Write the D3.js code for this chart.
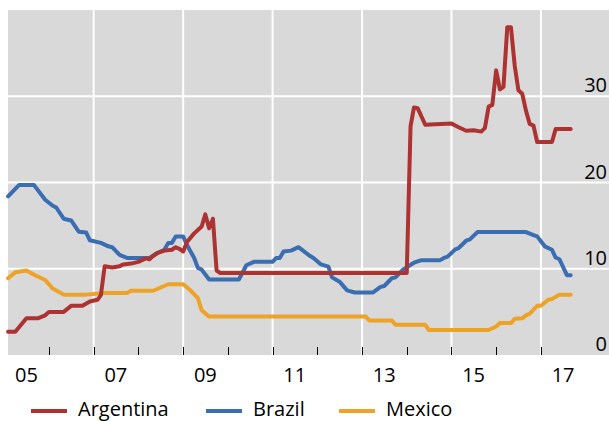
<!DOCTYPE html>
<html><head><meta charset="utf-8">
<script src="https://cdn.jsdelivr.net/npm/d3@7"></script>
<style>body{margin:0;background:#fff}svg{display:block}text{font-family:"Open Sans",sans-serif;fill:#000}</style>
</head><body><svg id="c" width="609" height="421"></svg>
<script>
const argDates = ["2005-02","2005-04","2005-07","2005-10","2005-12","2006-01","2006-05","2006-07","2006-10","2006-12","2007-02","2007-03","2007-04","2007-06","2007-08","2007-09","2007-11","2008-01","2008-03","2008-04","2008-05","2008-06","2008-08","2008-10","2008-11","2008-12","2009-01","2009-02","2009-04","2009-05","2009-06","2009-07","2009-08","2009-09","2009-10","2009-11","2014-01","2014-02","2014-03","2014-04","2014-06","2015-01","2015-02","2015-03","2015-05","2015-07","2015-09","2015-10","2015-11","2015-12","2016-01","2016-02","2016-03","2016-04","2016-05","2016-06","2016-07","2016-08","2016-09","2016-10","2016-11","2016-12","2017-04","2017-05","2017-09"];
const argValues = [2.7,2.7,4.25,4.25,4.6,5.0,5.0,5.7,5.7,6.2,6.4,6.95,10.3,10.15,10.3,10.5,10.6,10.8,11.2,11.1,11.5,11.8,12.1,12.2,12.5,12.3,12.0,13.1,14.1,14.5,14.9,16.3,14.7,15.8,9.8,9.5,9.5,26.5,28.7,28.6,26.7,26.85,26.6,26.4,26.0,26.05,25.9,26.3,28.8,29.0,33.0,30.8,31.1,38.0,38.0,33.5,30.7,30.3,28.3,26.8,26.6,24.7,24.7,26.2,26.2];

const braDates = ["2005-02","2005-05","2005-09","2005-12","2006-02","2006-03","2006-05","2006-07","2006-09","2006-11","2006-12","2007-03","2007-05","2007-06","2007-08","2007-10","2008-04","2008-06","2008-08","2008-09","2008-10","2008-11","2009-01","2009-02","2009-04","2009-05","2009-06","2009-08","2010-04","2010-06","2010-08","2011-01","2011-02","2011-03","2011-04","2011-06","2011-08","2011-11","2011-12","2012-02","2012-04","2012-05","2012-07","2012-09","2012-11","2013-04","2013-06","2013-07","2013-09","2013-10","2013-12","2014-03","2014-05","2014-10","2014-11","2014-12","2015-02","2015-03","2015-05","2015-06","2015-08","2016-09","2016-11","2016-12","2017-02","2017-04","2017-05","2017-06","2017-08","2017-09"];
const braValues = [18.4,19.7,19.7,18.0,17.3,17.1,15.8,15.6,14.3,14.2,13.3,13.0,12.6,12.5,11.6,11.25,11.25,11.8,12.2,13.0,13.0,13.75,13.75,12.75,11.25,10.1,9.9,8.75,8.75,10.4,10.8,10.8,11.25,11.25,12.0,12.1,12.5,11.5,11.25,10.5,10.25,9.0,8.5,7.5,7.25,7.25,7.9,8.0,8.9,9.0,9.9,10.7,11.0,11.0,11.25,11.4,12.25,12.4,13.25,13.4,14.25,14.25,13.9,13.75,12.6,12.2,11.3,11.1,9.25,9.25];

const mexDates = ["2005-02","2005-04","2005-07","2005-09","2005-12","2006-02","2006-05","2006-11","2007-04","2007-10","2007-11","2008-05","2008-09","2009-01","2009-03","2009-05","2009-06","2009-08","2013-02","2013-03","2013-09","2013-10","2014-06","2014-07","2015-11","2016-01","2016-02","2016-05","2016-06","2016-08","2016-09","2016-10","2016-12","2017-01","2017-03","2017-04","2017-06","2017-09"];
const mexValues = [8.9,9.6,9.8,9.3,8.7,7.7,7.0,7.0,7.2,7.2,7.45,7.45,8.2,8.2,7.5,6.6,5.2,4.45,4.45,4.0,4.0,3.5,3.5,2.9,2.9,3.3,3.7,3.7,4.2,4.25,4.6,4.8,5.7,5.7,6.4,6.5,7.0,7.0];

const yTicks = [0,10,20,30];
const xLabels = ["05","07","09","11","13","15","17"];
const legendNames = ["Argentina","Brazil","Mexico"];
const colors = ["#AD3232","#3B6DB3","#EEA226"];

const svg = d3.select("#c");
const parse = d3.timeParse("%Y-%m");
const X0 = 4.28, YEAR = 44.72;
const x = d3.scaleTime().domain([new Date(2005,0,1), new Date(2018,0,1)]).range([X0, X0 + 13*YEAR]);
const y = d3.scaleLinear().domain([0,40]).range([355,10]);
const left = 8, right = 609;

svg.append("rect").attr("x",left).attr("y",y(40)).attr("width",right-left).attr("height",y(0)-y(40)).attr("fill","#D9D9D9");

svg.selectAll(".hg").data(yTicks.filter(d=>d>0)).enter().append("line")
  .attr("x1",left).attr("x2",right).attr("y1",d=>y(d)).attr("y2",d=>y(d))
  .attr("stroke","#fff").attr("stroke-width",2);
const vYears = d3.range(2007,2018,2);
svg.selectAll(".vg").data(vYears).enter().append("line")
  .attr("x1",d=>x(new Date(d,0,1))).attr("x2",d=>x(new Date(d,0,1)))
  .attr("y1",y(40)).attr("y2",y(0)).attr("stroke","#fff").attr("stroke-width",2);

svg.selectAll(".tk").data(d3.range(2006,2018)).enter().append("line")
  .attr("x1",d=>Math.round(x(new Date(d,0,1)))+0.5).attr("x2",d=>Math.round(x(new Date(d,0,1)))+0.5)
  .attr("y1",y(0)-8).attr("y2",y(0)).attr("stroke","#000").attr("stroke-width",1);

svg.selectAll(".xl").data(xLabels).enter().append("text")
  .attr("x",d=>x(new Date(2000+ +d,6,1))).attr("y",382)
  .attr("text-anchor","middle").attr("font-size",20).text(d=>d);

svg.selectAll(".yl").data(yTicks).enter().append("text")
  .attr("x",607).attr("y",d=>y(d)-4).attr("text-anchor","end").attr("font-size",20).text(d=>d);

const series = [
  {dates:argDates, values:argValues},
  {dates:braDates, values:braValues},
  {dates:mexDates, values:mexValues}
];
const line = d3.line().x(d=>x(d[0])).y(d=>y(d[1]));
[2,1,0].forEach(i=>{
  const s = series[i];
  const pts = s.dates.map((d,j)=>[parse(d), s.values[j]]);
  svg.append("path").attr("d",line(pts)).attr("fill","none")
    .attr("stroke",colors[i]).attr("stroke-width",4).attr("stroke-linejoin","round").attr("stroke-linecap","round");
});

const legX = [31,206,339];
legendNames.forEach((n,i)=>{
  svg.append("line").attr("x1",legX[i]).attr("x2",legX[i]+36).attr("y1",411).attr("y2",411)
    .attr("stroke",colors[i]).attr("stroke-width",4);
  svg.append("text").attr("x",legX[i]+47).attr("y",416).attr("font-size",20).text(n);
});
</script></body></html>
